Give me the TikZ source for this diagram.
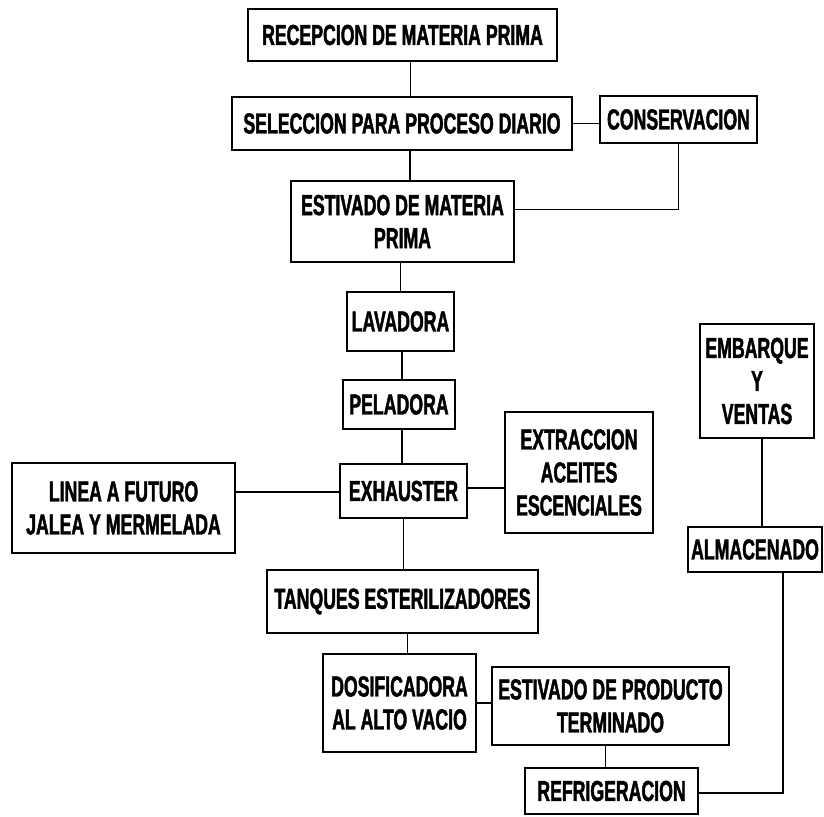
\documentclass[tikz,border=0pt]{standalone}
\usepackage{fontspec}
\newfontfamily\flowfont{Liberation Sans}[FakeStretch=0.61,FakeBold=1.5]
\usetikzlibrary{positioning,calc}

\tikzset{
  proc/.style={draw, line width=2.4pt, align=center, inner sep=0pt,
    font=\flowfont\bfseries\fontsize{29}{33}\selectfont},
  link/.style={line width=1.4pt},
}

\begin{document}
\begin{tikzpicture}[x=1pt,y=-1pt]
        \useasboundingbox (0,0) rectangle (824,816);
        %Main line
        \node[proc, minimum width=309pt, minimum height=52pt] (rec) at (402.5,35) {RECEPCION DE MATERIA PRIMA};
        \node[proc, minimum width=340pt, minimum height=53pt] (sel) at (402,123.5) {SELECCION PARA PROCESO DIARIO};
        \node[proc, minimum width=157pt, minimum height=47pt] (cons) at (678.5,119.5) {CONSERVACION};
        \node[proc, minimum width=223pt, minimum height=81pt] (est) at (402.5,221.5) {ESTIVADO DE MATERIA\\PRIMA};
        \node[proc, minimum width=107pt, minimum height=59pt] (lav) at (400.5,321.5) {LAVADORA};
        \node[proc, minimum width=112pt, minimum height=49pt] (pel) at (399,404.5) {PELADORA};
        \node[proc, minimum width=127pt, minimum height=54pt] (exh) at (403.5,491) {EXHAUSTER};
        \node[proc, minimum width=223pt, minimum height=90pt] (lin) at (123.5,508) {LINEA A FUTURO\\JALEA Y MERMELADA};
        \node[proc, minimum width=148pt, minimum height=121pt] (ext) at (579,472.5) {EXTRACCION\\ACEITES\\ESCENCIALES};
        \node[proc, minimum width=271pt, minimum height=63pt] (tan) at (402.5,601.5) {TANQUES ESTERILIZADORES};
        \node[proc, minimum width=153pt, minimum height=98pt] (dos) at (399.5,703) {DOSIFICADORA\\AL ALTO VACIO};
        %Finished product
        \node[proc, minimum width=237pt, minimum height=78pt] (estp) at (610.5,706) {ESTIVADO DE PRODUCTO\\TERMINADO};
        \node[proc, minimum width=173pt, minimum height=46pt] (ref) at (611.5,791) {REFRIGERACION};
        \node[proc, minimum width=134pt, minimum height=45pt] (alm) at (755,549.5) {ALMACENADO};
        \node[proc, minimum width=114pt, minimum height=114pt] (emb) at (757,381) {EMBARQUE\\Y\\VENTAS};
        % Connections
        \draw[link] ([xshift=8pt]rec.south) -- ([xshift=8pt]rec.south |- sel.north);
        \draw[link] (sel.east) -- (sel.east -| cons.west);
        \draw[link] ([xshift=8pt]sel.south) -- ([xshift=8pt]sel.south |- est.north);
        \draw[link] (cons.south) |- ([yshift=12pt]est.east);
        \draw[link] (est.south -| lav.north) -- (lav.north);
        \draw[link] ([xshift=1.5pt]lav.south) -- ([xshift=1.5pt]lav.south |- pel.north);
        \draw[link] ([xshift=3pt]pel.south) -- ([xshift=3pt]pel.south |- exh.north);
        \draw[link] ([yshift=-1pt]exh.west) -- ([yshift=-1pt]exh.west -| lin.east);
        \draw[link] ([yshift=3pt]exh.east) -- ([yshift=3pt]exh.east -| ext.west);
        \draw[link] (exh.south) -- (exh.south |- tan.north);
        \draw[link] ([xshift=5pt]tan.south) -- ([xshift=5pt]tan.south |- dos.north);
        \draw[link] (dos.east) -- (dos.east -| estp.west);
        \draw[link] ([xshift=-5pt]estp.south) -- ([xshift=-5pt]estp.south |- ref.north);
        \draw[link] ([yshift=-2pt]ref.east) -| ([xshift=28pt]alm.south);
        \draw[link] ([xshift=5pt]emb.south) -- ([xshift=5pt]emb.south |- alm.north);
\end{tikzpicture}
\end{document}
